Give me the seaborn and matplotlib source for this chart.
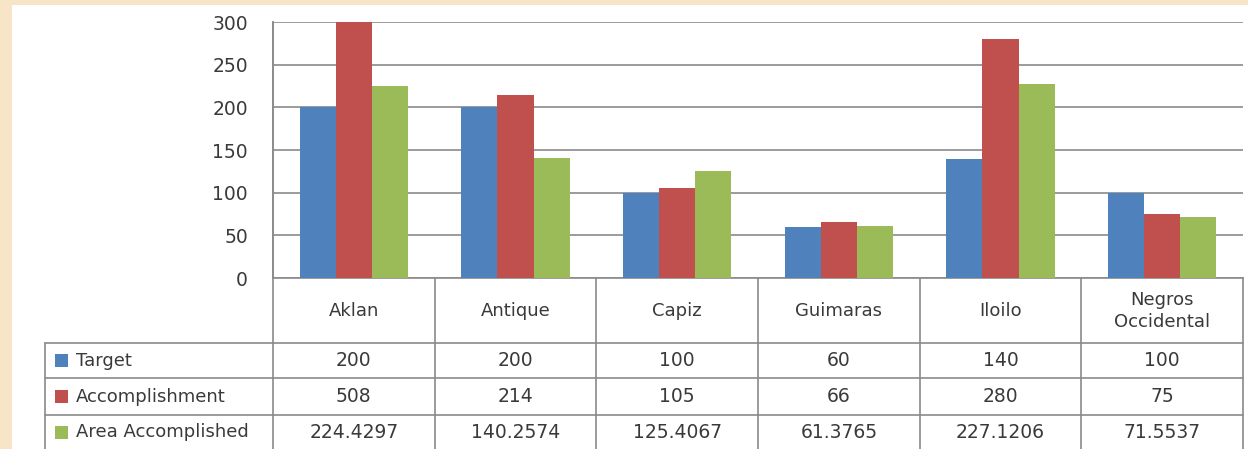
import numpy as np
import pandas as pd
import seaborn as sns
import matplotlib
matplotlib.use("Agg")
from matplotlib import pyplot as plt
from matplotlib import transforms
from matplotlib.patches import Rectangle

provinces = ["Aklan", "Antique", "Capiz", "Guimaras", "Iloilo", "Negros\nOccidental"]
series = ["Target", "Accomplishment", "Area Accomplished"]
target = [200, 200, 100, 60, 140, 100]
accomplishment = [508, 214, 105, 66, 280, 75]
area_accomplished = [224.4297, 140.2574, 125.4067, 61.3765, 227.1206, 71.5537]
y_ticks = [0, 50, 100, 150, 200, 250, 300]

colors = ["#4F81BD", "#C0504D", "#9BBB59"]
grid_col = "#8a8a8a"
text_col = "#3a3a3a"

W, H = 1248, 449

df = pd.DataFrame({
    "province": provinces * 3,
    "series": [s for s in series for _ in provinces],
    "value": target + accomplishment + area_accomplished,
})

sns.set_style("white")
plt.rcParams["font.family"] = ["DejaVu Sans"]

fig = plt.figure(figsize=(W / 100, H / 100), dpi=100)
fig.patch.set_facecolor("#f8e4c6")
fig.patches.append(Rectangle((12 / W, 0), 1 - 12 / W, 1 - 5 / H,
                             transform=fig.transFigure, facecolor="white",
                             edgecolor="none", zorder=-5))

# plot area in pixels: x 273..1243, y 22..278
ax = fig.add_axes([273 / W, 1 - 278 / H, (1243 - 273) / W, 256 / H])
ax.set_facecolor("white")

sns.barplot(data=df, x="province", y="value", hue="series", palette=colors,
            width=0.67, gap=0, saturation=1, errorbar=None, legend=False,
            linewidth=0, ax=ax, zorder=3)

ax.set_ylim(0, 300)
ax.set_xlim(-0.5, len(provinces) - 0.5)
ax.set_yticks(y_ticks)
ax.set_yticklabels([str(t) for t in y_ticks])
ax.set_xticks([])
ax.set_xlabel("")
ax.set_ylabel("")
ax.yaxis.grid(True, color=grid_col, lw=1.2, zorder=0)
ax.set_axisbelow(True)
ax.tick_params(axis="y", length=0, pad=18, labelsize=13.5, labelcolor=text_col)
for side in ["top", "right"]:
    ax.spines[side].set_visible(False)
for side in ["left", "bottom"]:
    ax.spines[side].set_color(grid_col)
    ax.spines[side].set_linewidth(1.2)


def fy(ypix):
    return 1 - ypix / H


bt = transforms.blended_transform_factory(ax.transData, fig.transFigure)
ft = fig.transFigure

# data table below the chart
row_lines = [343, 378, 415]
row_centers = [360.5, 396.5, 432]
values = [target, accomplishment, area_accomplished]
n = len(provinces)

line_kw = dict(color=grid_col, lw=1.2, clip_on=False)
# vertical lines
for i in range(n + 1):
    top = 22 if i == 0 else 278
    ax.plot([i - 0.5, i - 0.5], [fy(top), fy(H + 2)], transform=bt, **line_kw)
fig.add_artist(plt.Line2D([45 / W, 45 / W], [fy(343), 0], transform=ft,
                          color=grid_col, lw=1.2))
# horizontal lines
for yl in row_lines:
    fig.add_artist(plt.Line2D([45 / W, 273 / W], [fy(yl), fy(yl)], transform=ft,
                              color=grid_col, lw=1.2))
    ax.plot([-0.5, n - 0.5], [fy(yl), fy(yl)], transform=bt, **line_kw)

# category labels
for i, p in enumerate(provinces):
    ax.text(i, fy(311), p, transform=bt, ha="center", va="center",
            fontsize=13, color=text_col, linespacing=1.35)

# row labels with colour keys, values
for r, (name, col) in enumerate(zip(series, colors)):
    yc = row_centers[r]
    fig.patches.append(Rectangle((55 / W, fy(yc + 6.5)), 13 / W, 13 / H,
                                 transform=ft, facecolor=col, edgecolor="none"))
    fig.text(76 / W, fy(yc), name, ha="left", va="center", fontsize=13,
             color=text_col)
    for i, v in enumerate(values[r]):
        ax.text(i, fy(yc), str(v), transform=bt, ha="center", va="center",
                fontsize=13.5, color=text_col)

fig.savefig("out.png", dpi=100, facecolor=fig.get_facecolor())
